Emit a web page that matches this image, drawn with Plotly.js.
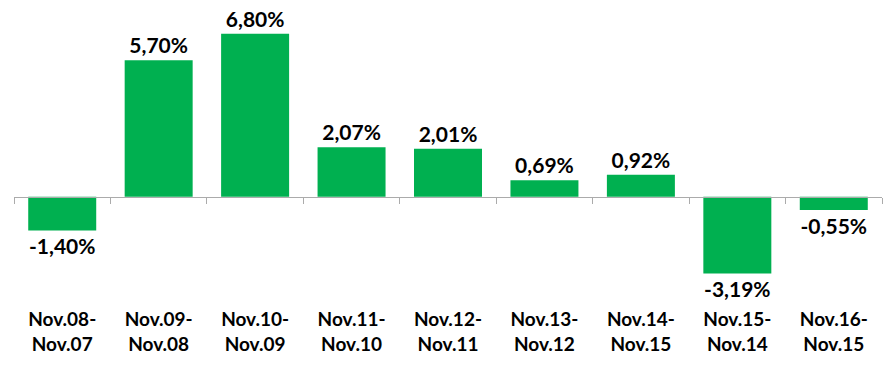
<!DOCTYPE html>
<html>
<head>
<meta charset="utf-8">
<script src="https://cdn.plot.ly/plotly-3.0.1.min.js"></script>
<style>html,body{margin:0;padding:0;background:#fff;}#chart{width:891px;height:379px;}</style>
</head>
<body>
<div id="chart"></div>
<script>
const categories = ["Nov.08-<br>Nov.07","Nov.09-<br>Nov.08","Nov.10-<br>Nov.09","Nov.11-<br>Nov.10","Nov.12-<br>Nov.11","Nov.13-<br>Nov.12","Nov.14-<br>Nov.15","Nov.15-<br>Nov.14","Nov.16-<br>Nov.15"];
const values = [-1.40, 5.70, 6.80, 2.07, 2.01, 0.69, 0.92, -3.19, -0.55];

const yMin = -4.3, yMax = 8.0;
const font = "Lato, 'Open Sans', sans-serif";

const traces = [
  {
    type: "bar",
    x: categories,
    y: values,
    xaxis: "x",
    yaxis: "y",
    marker: {color: "#00B050"},
    texttemplate: "<b>%{y:.2f}%</b>",
    textposition: "outside",
    cliponaxis: false,
    textfont: {family: font, size: 21, color: "#000"},
    hoverinfo: "skip"
  },
  {
    type: "scatter",
    mode: "markers",
    x: categories,
    y: values.map(() => null),
    xaxis: "x2",
    yaxis: "y",
    showlegend: false,
    hoverinfo: "skip"
  }
];

const layout = {
  width: 891, height: 379,
  margin: {l: 14, r: 9, t: 5, b: 79},
  paper_bgcolor: "#fff", plot_bgcolor: "#fff",
  separators: ",.",
  showlegend: false,
  bargap: 0.295,
  xaxis: {
    type: "category",
    range: [-0.5, categories.length - 0.5],
    showline: false, showgrid: false, zeroline: false,
    ticks: "",
    ticklabelstandoff: 6,
    tickfont: {family: font, size: 19, color: "#000", weight: "bold"},
    fixedrange: true
  },
  xaxis2: {
    type: "category",
    overlaying: "x",
    anchor: "free",
    position: (0 - yMin) / (yMax - yMin),
    range: [-0.5, categories.length - 0.5],
    showline: true, linecolor: "#ABABAB", linewidth: 1,
    ticks: "outside", tickson: "boundaries", ticklen: 6, tickcolor: "#ABABAB", tickwidth: 1,
    showticklabels: false, showgrid: false, zeroline: false,
    fixedrange: true
  },
  yaxis: {
    range: [yMin, yMax],
    visible: false,
    showgrid: false, zeroline: false,
    fixedrange: true
  }
};

Plotly.newPlot("chart", traces, layout, {staticPlot: true, displayModeBar: false});
</script>
</body>
</html>
